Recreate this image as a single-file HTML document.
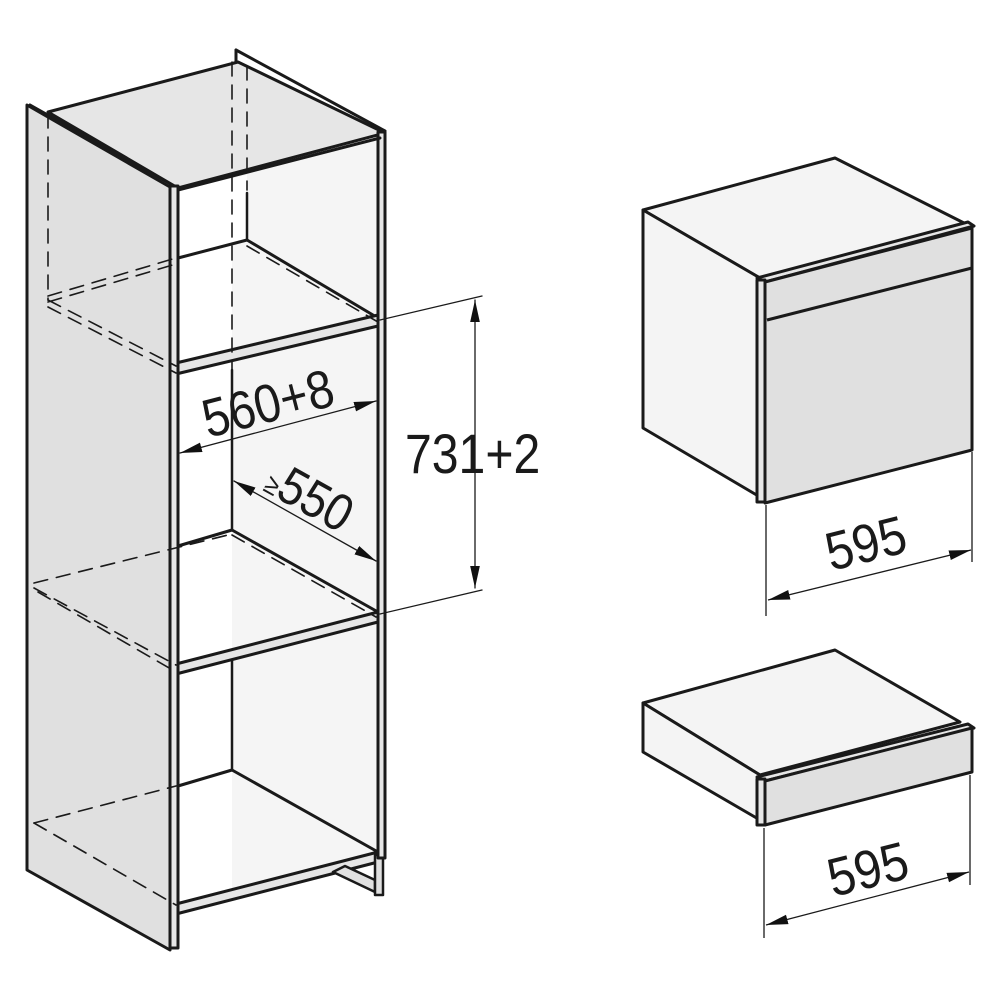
<!DOCTYPE html>
<html><head><style>html,body{margin:0;padding:0;background:#fff}svg{display:block}</style></head><body>
<svg width="1000" height="1000" viewBox="0 0 1000 1000" xmlns="http://www.w3.org/2000/svg" font-family="Liberation Sans, sans-serif">
<defs>
<marker id="b" viewBox="0 0 10 10" refX="10" refY="5" markerWidth="22" markerHeight="22" orient="auto-start-reverse" markerUnits="userSpaceOnUse"><path d="M0,2.8 L10,5 L0,7.2 z" fill="#111"/></marker>
</defs>
<g stroke="#1a1a1a" stroke-linejoin="round" stroke-linecap="round">
<polygon points="178,190 378,138 378,860 178,912" fill="#f5f5f5" stroke="none"/>
<polygon points="178,190 247,175 247,240 232,244 232,912 178,912" fill="#fff" stroke="none"/>
<polygon points="48,112 238,62 385,133 178,188" fill="#e6e6e6" stroke-width="3"/>
<line x1="30" y1="105" x2="174" y2="186" stroke-width="3"/>
<line x1="236" y1="50" x2="385" y2="131" stroke-width="3"/>
<line x1="236" y1="50" x2="236" y2="62" stroke-width="3"/>
<polygon points="27,105 170,187 170,950 27,870" fill="#e0e0e0" stroke-width="3"/>
<line x1="247" y1="193" x2="247" y2="240" stroke-width="2.5"/>
<line x1="232" y1="370" x2="232" y2="530" stroke-width="2.5"/>
<line x1="232" y1="660" x2="232" y2="770" stroke-width="2.5"/>
<line x1="178" y1="258" x2="247" y2="240" stroke-width="3"/>
<line x1="247" y1="240" x2="378" y2="318" stroke-width="3"/>
<polygon points="176,363 378,315 378,326 176,374" fill="#e6e6e6" stroke-width="3"/>
<line x1="232" y1="530" x2="378" y2="612" stroke-width="3"/>
<line x1="178" y1="546" x2="232" y2="530" stroke-width="3"/>
<polygon points="176,664 378,612 378,622 176,674" fill="#e6e6e6" stroke-width="3"/>
<line x1="232" y1="770" x2="378" y2="852" stroke-width="3"/>
<line x1="178" y1="786" x2="232" y2="770" stroke-width="3"/>
<polygon points="176,904 378,852 378,862 176,914" fill="#e6e6e6" stroke-width="3"/>
<polygon points="333,872 375,892 375,880 345,866" fill="#e0e0e0" stroke-width="2.5"/>
<rect x="375" y="855" width="8" height="40" fill="#e0e0e0" stroke-width="2.5"/>
<rect x="170" y="186" width="8" height="762" fill="#e6e6e6" stroke-width="3"/>
<rect x="378" y="132" width="7" height="726" fill="#e6e6e6" stroke-width="3"/>
<line x1="178" y1="190" x2="380" y2="138" stroke-width="3"/>
<g stroke-width="1.6" stroke-dasharray="14,9" fill="none">
<line x1="48" y1="114" x2="48" y2="300"/>
<line x1="232" y1="62" x2="232" y2="370"/>
<line x1="247" y1="66" x2="247" y2="190"/>
<line x1="48" y1="296" x2="176" y2="258"/>
<line x1="48" y1="302" x2="176" y2="264"/>
<line x1="48" y1="300" x2="176" y2="366"/>
<line x1="48" y1="307" x2="176" y2="373"/>
<line x1="247" y1="246" x2="378" y2="322"/>
<line x1="34" y1="583" x2="232" y2="534"/>
<line x1="34" y1="588" x2="176" y2="665"/>
<line x1="38" y1="592" x2="176" y2="672"/>
<line x1="232" y1="535" x2="376" y2="617"/>
<line x1="34" y1="823" x2="176" y2="786"/>
<line x1="34" y1="823" x2="176" y2="905"/>
</g>
<g stroke-width="1.3" fill="none">
<line x1="380" y1="320" x2="482" y2="296"/>
<line x1="380" y1="614" x2="482" y2="590"/>
<line x1="475" y1="300" x2="475" y2="588" marker-start="url(#b)" marker-end="url(#b)"/>
<line x1="180" y1="453" x2="376" y2="401" marker-start="url(#b)" marker-end="url(#b)"/>
<line x1="234" y1="481" x2="376" y2="561" marker-start="url(#b)" marker-end="url(#b)"/>
</g>
</g>
<g fill="#1a1a1a">
<text transform="translate(405,473) scale(0.86,1)" font-size="56">731+2</text>
<text transform="translate(208,438) rotate(-14.5) scale(0.88,1)" font-size="54">560+8</text>
<text transform="translate(262,490) rotate(29) scale(0.88,1)" font-size="52"><tspan font-size="28">≥</tspan>550</text>
<text transform="translate(831,571) rotate(-14) scale(0.9,1)" font-size="54">595</text>
<text transform="translate(833,897) rotate(-14) scale(0.9,1)" font-size="54">595</text>
</g>
<g stroke="#1a1a1a" stroke-width="3" stroke-linejoin="round">
<polygon points="643,210 835,158 970,226 760,278" fill="#f4f4f4"/>
<polygon points="643,210 760,278 760,497 643,428" fill="#f4f4f4"/>
<polygon points="757,278 968,222 974,226 765,282" fill="#e6e6e6"/>
<rect x="757" y="280" width="8" height="222" fill="#e6e6e6"/>
<polygon points="765,282 972,228 972,450 765,503" fill="#e0e0e0"/>
<line x1="767" y1="320" x2="972" y2="268"/>
<polygon points="643,703 835,650 960,722 760,775" fill="#f4f4f4"/>
<polygon points="643,703 760,775 760,820 643,752" fill="#f4f4f4"/>
<polygon points="757,777 968,724 974,728 765,781" fill="#e6e6e6"/>
<rect x="757" y="779" width="8" height="46" fill="#e6e6e6"/>
<polygon points="765,781 972,728 972,772 765,825" fill="#e0e0e0"/>
</g>
<g stroke="#1a1a1a" stroke-width="1.3" fill="none">
<line x1="766" y1="505" x2="766" y2="616"/>
<line x1="972" y1="452" x2="972" y2="562"/>
<line x1="768" y1="600" x2="971" y2="550" marker-start="url(#b)" marker-end="url(#b)"/>
<line x1="764" y1="828" x2="764" y2="938"/>
<line x1="970" y1="775" x2="970" y2="885"/>
<line x1="766" y1="925" x2="969" y2="872" marker-start="url(#b)" marker-end="url(#b)"/>
</g>
</svg>
</body></html>
